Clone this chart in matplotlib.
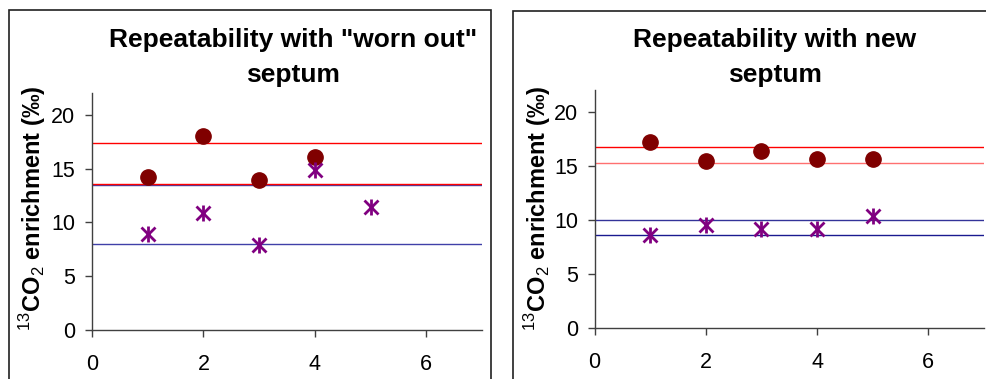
import numpy as np
import matplotlib
matplotlib.use("Agg")
import matplotlib.pyplot as plt
from matplotlib.patches import Rectangle

plt.rcParams['font.family'] = ['Liberation Sans', 'DejaVu Sans']
plt.rcParams['mathtext.fontset'] = 'custom'
plt.rcParams['mathtext.rm'] = 'Liberation Sans'
plt.rcParams['mathtext.bf'] = 'Liberation Sans:bold'

# replicate number of each measurement
runs_worn = [1, 2, 3, 4, 5]
runs_new = [1, 2, 3, 4, 5]

# "worn out" septum
worn_circle_x = [1, 2, 3, 4]
worn_circle = [14.2, 18.0, 13.9, 16.1]
worn_star = [8.9, 10.9, 7.9, 14.9, 11.4]
worn_red_lines = [17.4, 13.6]
worn_blue_lines = [13.5, 8.0]

# new septum
new_circle = [17.2, 15.4, 16.4, 15.6, 15.6]
new_star = [8.6, 9.5, 9.2, 9.2, 10.4]
new_red_lines = [16.75, 15.3]
new_blue_lines = [10.0, 8.65]

titles = ['Repeatability with "worn out"\nseptum', 'Repeatability with new\nseptum']
ylabel = r'$^{13}$CO$_2$ enrichment (‰)'

fig = plt.figure(figsize=(9.87, 3.79), dpi=100)

ax1 = fig.add_axes([0.0932, 0.1293, 0.3951, 0.6245])
ax2 = fig.add_axes([0.6025, 0.1338, 0.3944, 0.6288])


def panel(ax, cx, cy, sx, sy, red, blue, red_cols, blue_cols):
    for v, c in zip(blue, blue_cols):
        ax.axhline(v, color=c, lw=1.0, zorder=1)
    for v, c in zip(red, red_cols):
        ax.axhline(v, color=c, lw=1.0, zorder=1)
    ax.plot(cx, cy, 'o', color='#800000', ms=11, zorder=3, ls='none')
    ax.plot(sx, sy, 'x', color='#800080', ms=10, mew=2, zorder=3, ls='none')
    ax.plot(sx, sy, '|', color='#800080', ms=12, mew=2, zorder=3, ls='none')
    ax.set_xlim(0, 7)
    ax.set_ylim(0, 22)
    ax.set_xticks([0, 2, 4, 6])
    ax.set_yticks([0, 5, 10, 15, 20])
    for s in ['top', 'right']:
        ax.spines[s].set_visible(False)
    for s in ['left', 'bottom']:
        ax.spines[s].set_color('#404040')
        ax.spines[s].set_linewidth(1.0)
    ax.tick_params(axis='both', direction='out', length=5, width=1,
                   color='#404040', labelsize=15.5)
    ax.tick_params(axis='y', pad=7)
    ax.tick_params(axis='x', pad=12)


panel(ax1, worn_circle_x, worn_circle, runs_worn, worn_star,
      worn_red_lines, worn_blue_lines, ['#ff0000', '#ff0000'], ['#4040a8', '#4040a8'])
panel(ax2, runs_new, new_circle, runs_new, new_star,
      new_red_lines, new_blue_lines, ['#ff0000', '#ff7070'], ['#333399', '#1a1a90'])

# titles
fig.text(293 / 987, 1 - 57.5 / 379, titles[0], ha='center', va='center',
         fontsize=19, fontweight='bold', linespacing=1.6)
fig.text(775 / 987, 1 - 57.5 / 379, titles[1], ha='center', va='center',
         fontsize=19, fontweight='bold', linespacing=1.6)

# y labels
fig.text(33 / 987, 1 - 208 / 379, ylabel, rotation=90, ha='center', va='center',
         fontsize=17, fontweight='bold')
fig.text(538 / 987, 1 - 208 / 379, ylabel, rotation=90, ha='center', va='center',
         fontsize=17, fontweight='bold')

# chart frames (cropped)
fig.add_artist(Rectangle((9 / 987, -0.2), (491 - 9) / 987, 0.2 + 1 - 10 / 379,
                         transform=fig.transFigure, fill=False, ec='#202020', lw=1.2))
fig.add_artist(Rectangle((513 / 987, -0.2), 0.6, 0.2 + 1 - 10.7 / 379,
                         transform=fig.transFigure, fill=False, ec='#202020', lw=1.2))

fig.savefig('out.png', dpi=100)
